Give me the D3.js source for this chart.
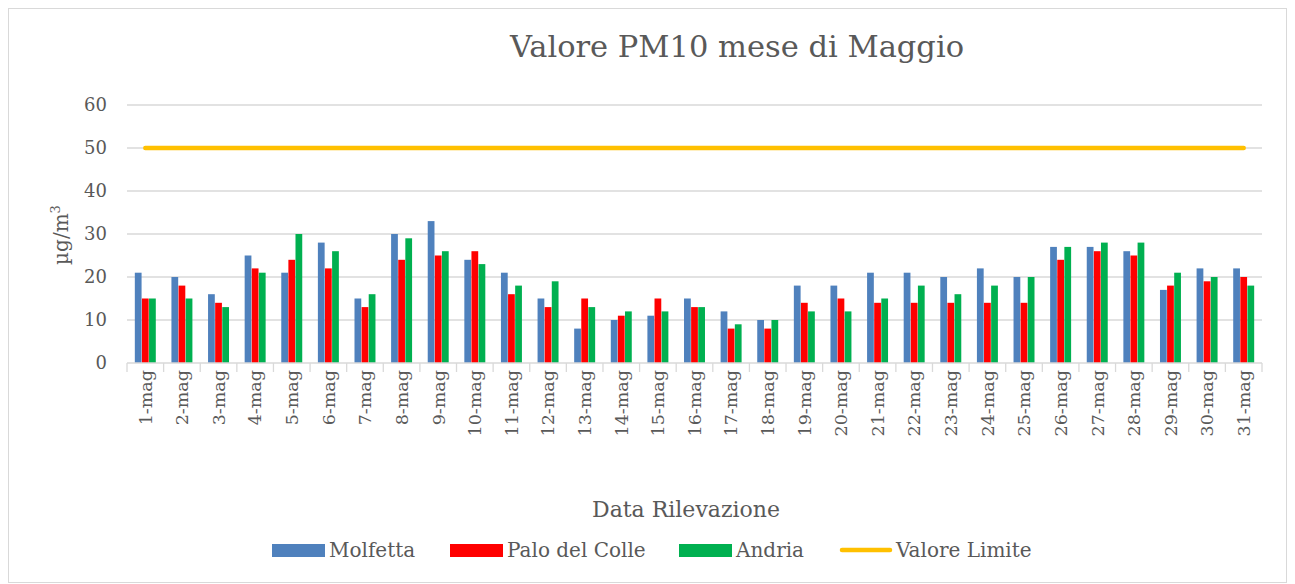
<!DOCTYPE html>
<html>
<head>
<meta charset="utf-8">
<script src="https://cdn.jsdelivr.net/npm/d3@7"></script>
<style>
  body { margin: 0; background: #fff; }
  text { font-family: "DejaVu Serif", "Liberation Serif", serif; fill: #595959; }
</style>
</head>
<body>
<svg id="chart"></svg>
<script>
// Data
const days = d3.range(1, 32).map(d => d + "-mag");
const molfetta = [21, 20, 16, 25, 21, 28, 15, 30, 33, 24, 21, 15, 8, 10, 11, 15, 12, 10, 18, 18, 21, 21, 20, 22, 20, 27, 27, 26, 17, 22, 22];
const paloDelColle = [15, 18, 14, 22, 24, 22, 13, 24, 25, 26, 16, 13, 15, 11, 15, 13, 8, 8, 14, 15, 14, 14, 14, 14, 14, 24, 26, 25, 18, 19, 20];
const andria = [15, 15, 13, 21, 30, 26, 16, 29, 26, 23, 18, 19, 13, 12, 12, 13, 9, 10, 12, 12, 15, 18, 16, 18, 20, 27, 28, 28, 21, 20, 18];
const limitValue = 50;
const yTicks = [0, 10, 20, 30, 40, 50, 60];

const seriesNames = ["Molfetta", "Palo del Colle", "Andria"];
const seriesColors = ["#4f81bd", "#ff0000", "#00b050"];
const seriesData = [molfetta, paloDelColle, andria];

const W = 1295, H = 584;
const margin = { left: 127, right: 33, top: 105, bottom: 221 };

const svg = d3.select("#chart").attr("width", W).attr("height", H);

// outer frame
svg.append("rect")
  .attr("x", 8.5).attr("y", 8.5)
  .attr("width", W - 17).attr("height", H - 10)
  .attr("fill", "none").attr("stroke", "#d9d9d9");

const x = d3.scaleBand().domain(days).range([margin.left, W - margin.right]).paddingInner(0).paddingOuter(0);
const y = d3.scaleLinear().domain([0, 60]).range([H - margin.bottom, margin.top]);
const xs = d3.scaleBand().domain(d3.range(3)).range([0, x.bandwidth()]).paddingInner(0.05).paddingOuter(1.1);

// gridlines
svg.append("g").selectAll("line").data(yTicks.slice(1)).enter().append("line")
  .attr("x1", margin.left).attr("x2", W - margin.right)
  .attr("y1", d => y(d)).attr("y2", d => y(d))
  .attr("stroke", "#d9d9d9").attr("stroke-width", 1.3);

// y tick labels
svg.append("g").selectAll("text").data(yTicks).enter().append("text")
  .attr("x", 107).attr("y", d => y(d)).attr("dy", "0.36em")
  .attr("text-anchor", "end").style("font-size", "18px")
  .text(d => d);

// bars
seriesData.forEach((vals, si) => {
  svg.append("g").selectAll("rect").data(vals).enter().append("rect")
    .attr("x", (d, i) => x(days[i]) + xs(si))
    .attr("width", xs.bandwidth())
    .attr("y", d => y(d))
    .attr("height", d => y(0) - y(d))
    .attr("fill", seriesColors[si]);
});

// x axis line and ticks
svg.append("line")
  .attr("x1", margin.left).attr("x2", W - margin.right)
  .attr("y1", y(0)).attr("y2", y(0))
  .attr("stroke", "#d9d9d9").attr("stroke-width", 1.3);
svg.append("g").selectAll("line").data(days.concat(["end"])).enter().append("line")
  .attr("x1", (d, i) => margin.left + i * x.bandwidth())
  .attr("x2", (d, i) => margin.left + i * x.bandwidth())
  .attr("y1", y(0)).attr("y2", y(0) + 9)
  .attr("stroke", "#d9d9d9").attr("stroke-width", 1.3);

// x labels rotated
svg.append("g").selectAll("text").data(days).enter().append("text")
  .attr("transform", d => `translate(${x(d) + x.bandwidth() / 2},${y(0) + 7}) rotate(-90)`)
  .attr("text-anchor", "end").attr("dy", "0.36em")
  .style("font-size", "17.5px")
  .text(d => d);

// limit line
svg.append("line")
  .attr("x1", x(days[0]) + x.bandwidth() / 2)
  .attr("x2", x(days[days.length - 1]) + x.bandwidth() / 2)
  .attr("y1", y(limitValue)).attr("y2", y(limitValue))
  .attr("stroke", "#ffc000").attr("stroke-width", 4.5).attr("stroke-linecap", "round");

// title
svg.append("text").attr("x", 737).attr("y", 57)
  .attr("text-anchor", "middle").style("font-size", "30.5px")
  .text("Valore PM10 mese di Maggio");

// axis titles
svg.append("text").attr("x", 686).attr("y", 517)
  .attr("text-anchor", "middle").style("font-size", "22px")
  .text("Data Rilevazione");

const yt = svg.append("text")
  .attr("transform", "translate(68,235) rotate(-90)")
  .attr("text-anchor", "middle").style("font-size", "20px");
yt.append("tspan").text("µg/m");
yt.append("tspan").attr("dy", "-8").style("font-size", "13px").text("3");

// legend
const legendItems = [
  { name: "Molfetta", color: seriesColors[0], type: "rect", x: 272 },
  { name: "Palo del Colle", color: seriesColors[1], type: "rect", x: 450 },
  { name: "Andria", color: seriesColors[2], type: "rect", x: 679 },
  { name: "Valore Limite", color: "#ffc000", type: "line", x: 839 }
];
const lg = svg.append("g").selectAll("g").data(legendItems).enter().append("g")
  .attr("transform", d => `translate(${d.x},550)`);
lg.filter(d => d.type === "rect").append("rect")
  .attr("x", 0).attr("y", -6).attr("width", 53).attr("height", 13)
  .attr("fill", d => d.color);
lg.filter(d => d.type === "line").append("line")
  .attr("x1", 3).attr("x2", 51).attr("y1", 0).attr("y2", 0)
  .attr("stroke", d => d.color).attr("stroke-width", 4.5).attr("stroke-linecap", "round");
lg.append("text").attr("x", 57).attr("y", 7)
  .style("font-size", "20px")
  .text(d => d.name);
</script>
</body>
</html>
